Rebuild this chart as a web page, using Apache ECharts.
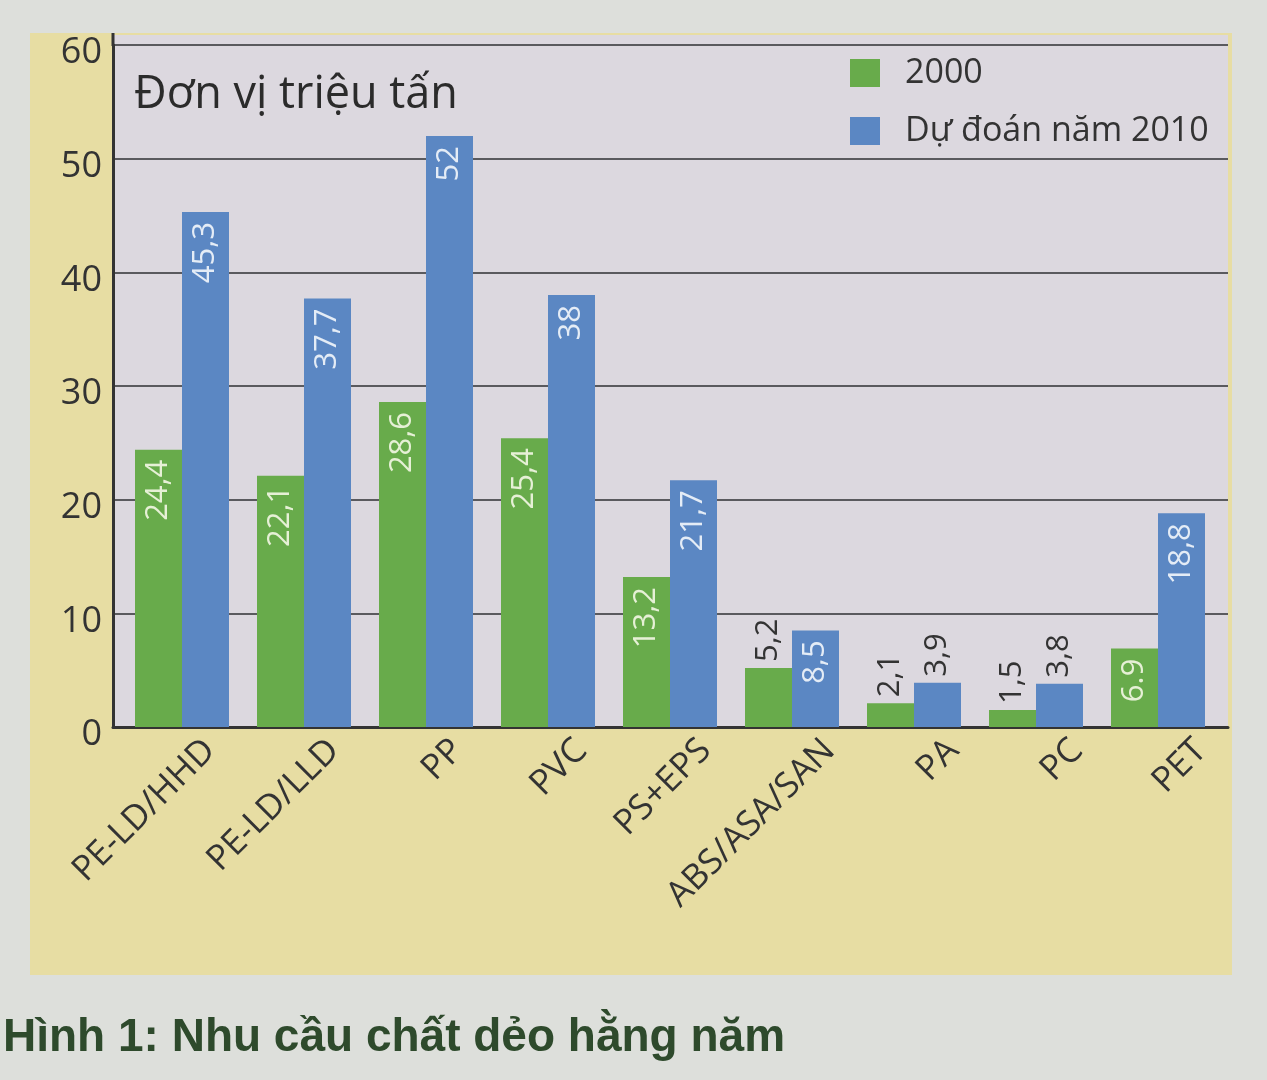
<!DOCTYPE html>
<html>
<head>
<meta charset="utf-8">
<script src="https://cdn.jsdelivr.net/npm/echarts@6/dist/echarts.min.js"></script>
<style>
html,body{margin:0;padding:0;background:#dddfdb;}
#c{width:1267px;height:1080px;}
</style>
</head>
<body>
<div id="c"></div>
<script>
var categories = ["PE-LD/HHD","PE-LD/LLD","PP","PVC","PS+EPS","ABS/ASA/SAN","PA","PC","PET"];
var values2000 = [24.4, 22.1, 28.6, 25.4, 13.2, 5.2, 2.1, 1.5, 6.9];
var values2010 = [45.3, 37.7, 52, 38, 21.7, 8.5, 3.9, 3.8, 18.8];
var labels2000 = ["24,4","22,1","28,6","25,4","13,2","5,2","2,1","1,5","6.9"];
var labels2010 = ["45,3","37,7","52","38","21,7","8,5","3,9","3,8","18,8"];
var seriesNames = ["2000", "Dự đoán năm 2010"];
var yTicks = [0, 10, 20, 30, 40, 50, 60];

var FONT = "'Open Sans', 'Noto Sans', sans-serif";
var GREEN = "#68ab4b", BLUE = "#5b87c3";

function buildData(vals, labels, insideColor) {
  return vals.map(function (v, i) {
    var outside = v < 6;
    return {
      value: v,
      label: {
        show: true,
        formatter: labels[i],
        rotate: 90,
        position: outside ? "top" : "insideTop",
        align: outside ? "left" : "right",
        verticalAlign: "middle",
        distance: outside ? 6 : 10,
        color: outside ? "#333333" : insideColor,
        fontFamily: FONT,
        fontSize: 31
      }
    };
  });
}

var chart = echarts.init(document.getElementById("c"));
chart.setOption({
  backgroundColor: "#dddfdb",
  animation: false,
  graphic: [
    { type: "rect", z: -10, shape: { x: 30, y: 33, width: 1202, height: 942 }, style: { fill: "#e7dda3" } },
    { type: "rect", z: -9, shape: { x: 113, y: 35, width: 1115, height: 692 }, style: { fill: "#dcd8df" } },
    { type: "line", z: 5, shape: { x1: 113, y1: 33, x2: 113, y2: 46 }, style: { stroke: "#333333", lineWidth: 3 } },
    { type: "text", left: 134, top: 73, z: 10,
      style: { text: "Đơn vị triệu tấn", font: "45px " + FONT, fill: "#2b2b2b" } },
    { type: "text", left: 3, top: 1015, z: 10,
      style: { text: "Hình 1: Nhu cầu chất dẻo hằng năm", font: "bold 46px 'Liberation Sans', Arial, sans-serif", fill: "#2e4a2c" } }
  ],
  legend: {
    orient: "vertical",
    left: 845,
    top: 51,
    itemWidth: 30,
    itemHeight: 28,
    itemGap: 24,
    icon: "rect",
    data: seriesNames,
    textStyle: { fontFamily: FONT, fontSize: 34, color: "#333333", padding: [0, 0, 0, 20] }
  },
  grid: [
    { left: 113, right: 39, top: 45, bottom: 353, show: false },
    { left: 121, right: 48, top: 45, bottom: 353, show: false },
    { left: 148, right: 4, top: 45, bottom: 353, show: false }
  ],
  xAxis: [
    {
      type: "category", gridIndex: 0, data: categories,
      axisLine: { lineStyle: { color: "#333333", width: 3 } },
      axisTick: { show: false },
      axisLabel: { show: false }
    },
    {
      type: "category", gridIndex: 1, data: categories, show: false
    },
    {
      type: "category", gridIndex: 2, data: categories,
      axisLine: { show: false },
      axisTick: { show: false },
      axisLabel: { rotate: 45, margin: 18, fontFamily: FONT, fontSize: 35, color: "#333333", interval: 0 }
    }
  ],
  yAxis: [
    {
      type: "value", gridIndex: 0, min: 0, max: 60, interval: 10,
      axisLine: { show: true, lineStyle: { color: "#333333", width: 3 } },
      axisTick: { show: false },
      axisLabel: { margin: 11, fontFamily: FONT, fontSize: 36, color: "#333333",
        verticalAlign: "top", lineHeight: 16,
        formatter: function (v) { return yTicks.indexOf(v) >= 0 ? String(v) : ""; } },
      splitLine: { show: true, lineStyle: { color: "#5a5a5e", width: 2 } }
    },
    { type: "value", gridIndex: 1, min: 0, max: 60, show: false, splitLine: { show: false } },
    { type: "value", gridIndex: 2, min: 0, max: 60, show: false, splitLine: { show: false } }
  ],
  series: [
    {
      name: seriesNames[0], type: "bar", xAxisIndex: 1, yAxisIndex: 1,
      barWidth: 47, barGap: "0%",
      itemStyle: { color: GREEN },
      data: buildData(values2000, labels2000, "#e6f0d6")
    },
    {
      name: seriesNames[1], type: "bar", xAxisIndex: 1, yAxisIndex: 1,
      barWidth: 47, barGap: "0%",
      itemStyle: { color: BLUE },
      data: buildData(values2010, labels2010, "#e4ecf6")
    }
  ]
});
</script>
</body>
</html>
